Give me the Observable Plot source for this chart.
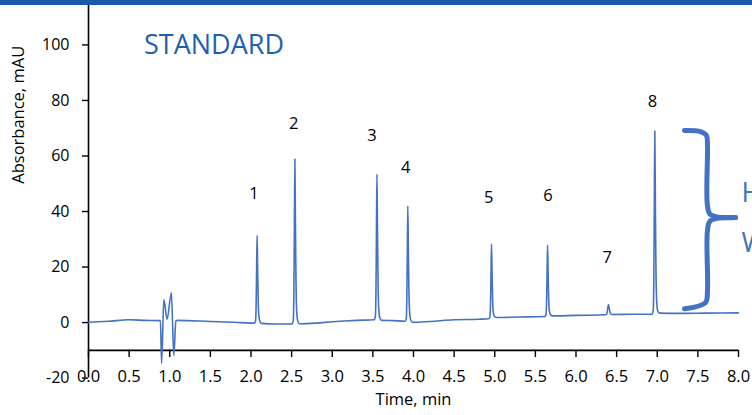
<!DOCTYPE html>
<html>
<head>
<meta charset="utf-8">
<script src="https://cdn.jsdelivr.net/npm/d3@7"></script>
<script src="https://cdn.jsdelivr.net/npm/@observablehq/plot@0.6"></script>
<style>
  html, body { margin: 0; padding: 0; background: #fff; }
  #wrap { position: relative; width: 752px; height: 415px; overflow: hidden; }
  #bar { position: absolute; left: 0; top: 0; width: 752px; height: 5px; background: #1b5aa8; z-index: 2; }
</style>
</head>
<body>
<div id="wrap"><div id="bar"></div></div>
<script>
// ---- data ----
const traceTime = [
  0.00, 0.25, 0.50, 0.70, 0.885, 0.900, 0.927, 0.967, 1.020, 1.050, 1.075, 1.10, 1.50, 1.80, 2.00,
  2.040, 2.055, 2.063, 2.069, 2.075, 2.082, 2.089, 2.097, 2.110, 2.130, 2.30,
  2.505, 2.520, 2.528, 2.534, 2.540, 2.547, 2.554, 2.562, 2.575, 2.595, 2.80, 3.00, 3.30,
  3.515, 3.530, 3.538, 3.544, 3.550, 3.557, 3.564, 3.572, 3.585, 3.605, 3.75,
  3.895, 3.910, 3.918, 3.924, 3.930, 3.937, 3.944, 3.952, 3.965, 3.985, 4.20, 4.50, 4.80,
  4.925, 4.940, 4.948, 4.954, 4.960, 4.967, 4.974, 4.982, 4.995, 5.015, 5.30,
  5.615, 5.630, 5.638, 5.644, 5.650, 5.657, 5.664, 5.672, 5.685, 5.705, 6.00,
  6.365, 6.380, 6.390, 6.400, 6.410, 6.422, 6.440, 6.70,
  6.935, 6.950, 6.958, 6.964, 6.970, 6.977, 6.984, 6.992, 7.005, 7.025, 7.30, 7.60, 8.00
];
const traceAbs = [
  0.1, 0.5, 1.0, 0.8, 0.7, -14.7, 8.3, 1.2, 10.7, -11.9, 0.6, 0.8, 0.4, 0.1, -0.2,
  -0.2, 0.4, 6.1, 18.7, 31.3, 18.7, 7.7, 2.3, 0.4, -0.3, -0.5,
  -0.5, 0.7, 11.4, 35.1, 58.9, 35.1, 14.4, 4.3, 0.7, -0.4, -0.2, 0.3, 0.8,
  1.0, 2.1, 11.5, 32.5, 53.5, 32.5, 14.1, 5.2, 1.8, 0.8, 0.7,
  0.5, 1.3, 8.8, 25.4, 42.0, 25.4, 10.9, 3.8, 1.0, 0.1, 0.4, 1.0, 1.2,
  1.4, 1.9, 6.8, 17.5, 28.3, 17.5, 8.1, 3.6, 2.3, 1.8, 2.0,
  2.2, 2.7, 7.3, 17.6, 27.9, 17.6, 8.6, 4.3, 2.9, 2.4, 2.6,
  2.8, 3.2, 5.0, 6.5, 5.0, 3.4, 2.9, 3.0,
  3.0, 4.3, 16.2, 42.6, 69.0, 42.6, 19.5, 8.3, 4.3, 3.4, 3.3, 3.4, 3.5
];

const peakLabels = ["1", "2", "3", "4", "5", "6", "7", "8"];
const peakLabelTime = [2.035, 2.525, 3.49, 3.905, 4.925, 5.655, 6.385, 6.94];
const peakLabelAbs = [46.3, 71.6, 67.4, 55.9, 44.8, 45.7, 23.3, 79.4];

const xTicks = [0, 0.5, 1, 1.5, 2, 2.5, 3, 3.5, 4, 4.5, 5, 5.5, 6, 6.5, 7, 7.5, 8];
const yTicks = [-20, 0, 20, 40, 60, 80, 100];

// curly brace annotation (upper and lower arms), data units
const braceTime = [7.335, 7.532, 7.606, 7.618, 7.618, 7.655, 7.963,
                   7.963, 7.655, 7.618, 7.618, 7.594, 7.335];
const braceAbs  = [69.2, 68.8, 67.4, 63.8, 42.1, 38.9, 37.8,
                   37.8, 36.7, 33.1, 11.5, 7.2, 5.0];
const braceArm  = ["u","u","u","u","u","u","u","l","l","l","l","l","l"];

const noteText = ["Height", "Width"];
const noteAbs = [46.5, 28.5];

// ---- build tables ----
const trace = traceTime.map((t, i) => ({t, v: traceAbs[i]}));
const peaks = peakLabels.map((s, i) => ({s, t: peakLabelTime[i], v: peakLabelAbs[i]}));
const brace = braceTime.map((t, i) => ({t, v: braceAbs[i], z: braceArm[i]}));
const notes = noteText.map((s, i) => ({s, v: noteAbs[i]}));

const blue = "#4472c4";
const font = "'Open Sans', 'Liberation Sans', sans-serif";

const chart = Plot.plot({
  width: 752,
  height: 415,
  marginLeft: 88,
  marginRight: 14,
  marginTop: 5,
  marginBottom: 37.4,
  style: {fontFamily: font, fontSize: "16px", color: "#000", background: "#fff"},
  x: {domain: [0, 8], axis: null},
  y: {domain: [-20, 114.2]},
  marks: [
    Plot.axisY({ticks: yTicks, tickSize: 6, tickPadding: 13, tickFormat: d => String(d),
                fontSize: 16, label: null, strokeWidth: 1.4}),
    Plot.ruleX([0], {y1: -20, y2: 114.2, stroke: "#000", strokeWidth: 1.6}),
    Plot.ruleY([-10], {x1: 0, x2: 8, stroke: "#000", strokeWidth: 1.6}),
    Plot.ruleX(xTicks, {x: d => d, y1: -10, y2: -12.6, stroke: "#000", strokeWidth: 1.4}),
    Plot.text(xTicks, {x: d => d, y: -10, dy: 26, text: d => d.toFixed(1), fontSize: 16.5, fill: "#000"}),
    Plot.text(["Time, min"], {x: 4, y: -20, dy: 22, fontSize: 16.5, fill: "#000"}),
    Plot.text(["Absorbance, mAU"], {frameAnchor: "left", y: 50, dx: -70, rotate: -90, fontSize: 16.5, fill: "#000"}),
    Plot.line(trace, {x: "t", y: "v", stroke: blue, strokeWidth: 1.6, curve: "monotone-x"}),
    Plot.text(peaks, {x: "t", y: "v", text: "s", fontSize: 16.5, fill: "#000"}),
    Plot.text(["STANDARD"], {x: 1.545, y: 99.8, fontSize: 27, fill: "#1f5fad"}),
    Plot.line(brace, {x: "t", y: "v", z: "z", stroke: blue, strokeWidth: 5, curve: "catmull-rom", strokeLinejoin: "round"}),
    Plot.text(notes, {x: 8.037, y: "v", text: "s", textAnchor: "start", fontSize: 27, fill: blue})
  ]
});
document.getElementById("wrap").appendChild(chart);
</script>
</body>
</html>
